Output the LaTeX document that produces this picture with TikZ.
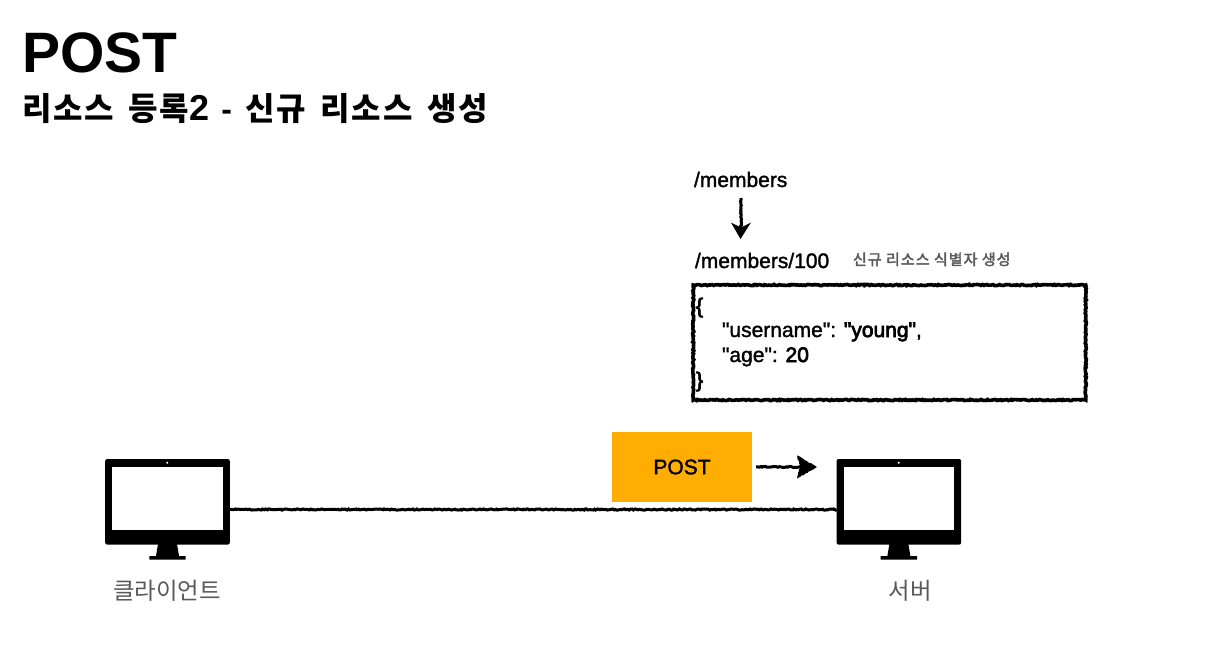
\documentclass[tikz,border=0pt]{standalone}
\usepackage{fontspec}
\setmainfont{Liberation Sans}
\newfontfamily\kr{Noto Sans CJK KR}
\newfontfamily\krwide{Noto Sans CJK KR}[LetterSpace=5.5,WordSpace=1.6]
\newfontfamily\krnote{Noto Sans CJK KR}[LetterSpace=7,FakeBold=2.5]
\newfontfamily\body{Liberation Sans}[FakeBold=1.5]
\newfontfamily\bodyheavy{Liberation Sans}[FakeBold=3.5]
\usetikzlibrary{decorations.pathmorphing,arrows.meta}
\definecolor{postorange}{HTML}{FFAD00}
\definecolor{labelgray}{HTML}{595959}
\definecolor{notegray}{HTML}{5A5A5A}
\tikzset{
  x=1pt,y=-1pt,
  txt/.style={inner sep=0pt,outer sep=0pt,anchor=base west,text=black},
  rough/.style={decorate,decoration={random steps,segment length=1.5pt,amplitude=0.6pt}},
  screen/.style={rectangle,fill=white,draw=none,minimum width=110.5pt,minimum height=62.7pt,inner sep=0pt},
  monitorbody/.style={rectangle,fill=black,draw=none,rounded corners=2pt,minimum width=124.6pt,minimum height=85.6pt,inner sep=0pt,outer sep=0pt},
  camera/.style={circle,fill=white,draw=none,minimum size=2.2pt,inner sep=0pt},
  devicelabel/.style={inner sep=0pt,anchor=base,text=labelgray,font=\kr\fontsize{23.4}{24}\selectfont},
}
\begin{document}
\begin{tikzpicture}
\useasboundingbox (0,0) rectangle (1207,667);
\fill[white] (0,0) rectangle (1207,667);

% titles
\node[txt,font=\bfseries\fontsize{57}{59}\selectfont] (title) at (22,72.5) {POST};
\node[txt,font=\bfseries\fontsize{32}{32}\selectfont] (subtitle) at (22,120) {{\krwide\bfseries 리소스 등록}{\fontsize{36}{36}\selectfont 2}\hspace{3.5pt} - \hspace{4.5pt}{\krwide\bfseries 신규 리소스 생성}};

% url labels
\node[txt,font=\body\fontsize{21}{21}\selectfont] (members) at (694,187) {/members};
\node[txt,font=\body\fontsize{21}{21}\selectfont] (members100) at (695,268) {/members/100};
\node[txt,text=notegray,font=\krnote\fontsize{15}{15}\selectfont] (note) at (853,265) {신규 리소스 식별자 생성};
\coordinate (arrowtop) at (741,198);
\coordinate (arrowtip) at (740.5,239);
\draw[line width=3pt,rough,black] (arrowtop) -- (741,228);
\fill[black] (arrowtip) -- (731,222.5) -- (741,227.5) -- (751,222.5) -- cycle;

% json box
\node[draw=black,line width=3.6pt,rough,fill=white,minimum width=392.5pt,minimum height=115pt,inner sep=0pt,outer sep=0pt] (json) at (889.5,342.5) {};
\node[txt,font=\bodyheavy\fontsize{21}{21}\selectfont] (l1) at (696,313) {\{};
\node[txt,font=\body\fontsize{21}{21}\selectfont] (l2) at (722,337) {"username": {\bodyheavy "young"},};
\node[txt,font=\body\fontsize{21}{21}\selectfont] (l3) at (722,362) {"age": {\bodyheavy 20}};
\node[txt,font=\bodyheavy\fontsize{21}{21}\selectfont] (l4) at (696,387) {\}};

% client monitor
\fill[black] (158,544) -- (177,544) -- (179,556) -- (185.7,556) -- (185.7,559.7) -- (149.3,559.7) -- (149.3,556) -- (156,556) -- cycle;
\node[monitorbody] (client) at (167.5,501.8) {};
\node[screen] at (167.5,498.6) {};
\node[camera] at (167.3,462.7) {};
\node[devicelabel] (clientlabel) at (167,599) {클라이언트};

% server monitor
\fill[black] (889.4,544) -- (908.4,544) -- (910.4,556) -- (917.1,556) -- (917.1,559.7) -- (880.7,559.7) -- (880.7,556) -- (887.4,556) -- cycle;
\node[monitorbody] (server) at (898.9,501.8) {};
\node[screen] at (898.9,498.6) {};
\node[camera] at (898.7,462.7) {};
\node[devicelabel] (serverlabel) at (910,599) {서버};

% connection
\draw[line width=3pt,rough,black] ([yshift=-7.7pt]client.east) -- ([yshift=-7.7pt]server.west);

% POST box and arrow
\node[rectangle,fill=postorange,minimum width=140pt,minimum height=70pt,inner sep=0pt,outer sep=0pt,font=\body\fontsize{21}{21}\selectfont] (post) at (682,467) {POST};
\coordinate (posttip) at (817,467);
\draw[line width=3pt,rough,black] ([xshift=4pt]post.east) -- (802,467);
\fill[black,rough] (posttip) -- (797,455.5) -- (800,467) -- (797,478.5) -- cycle;
\end{tikzpicture}
\end{document}
